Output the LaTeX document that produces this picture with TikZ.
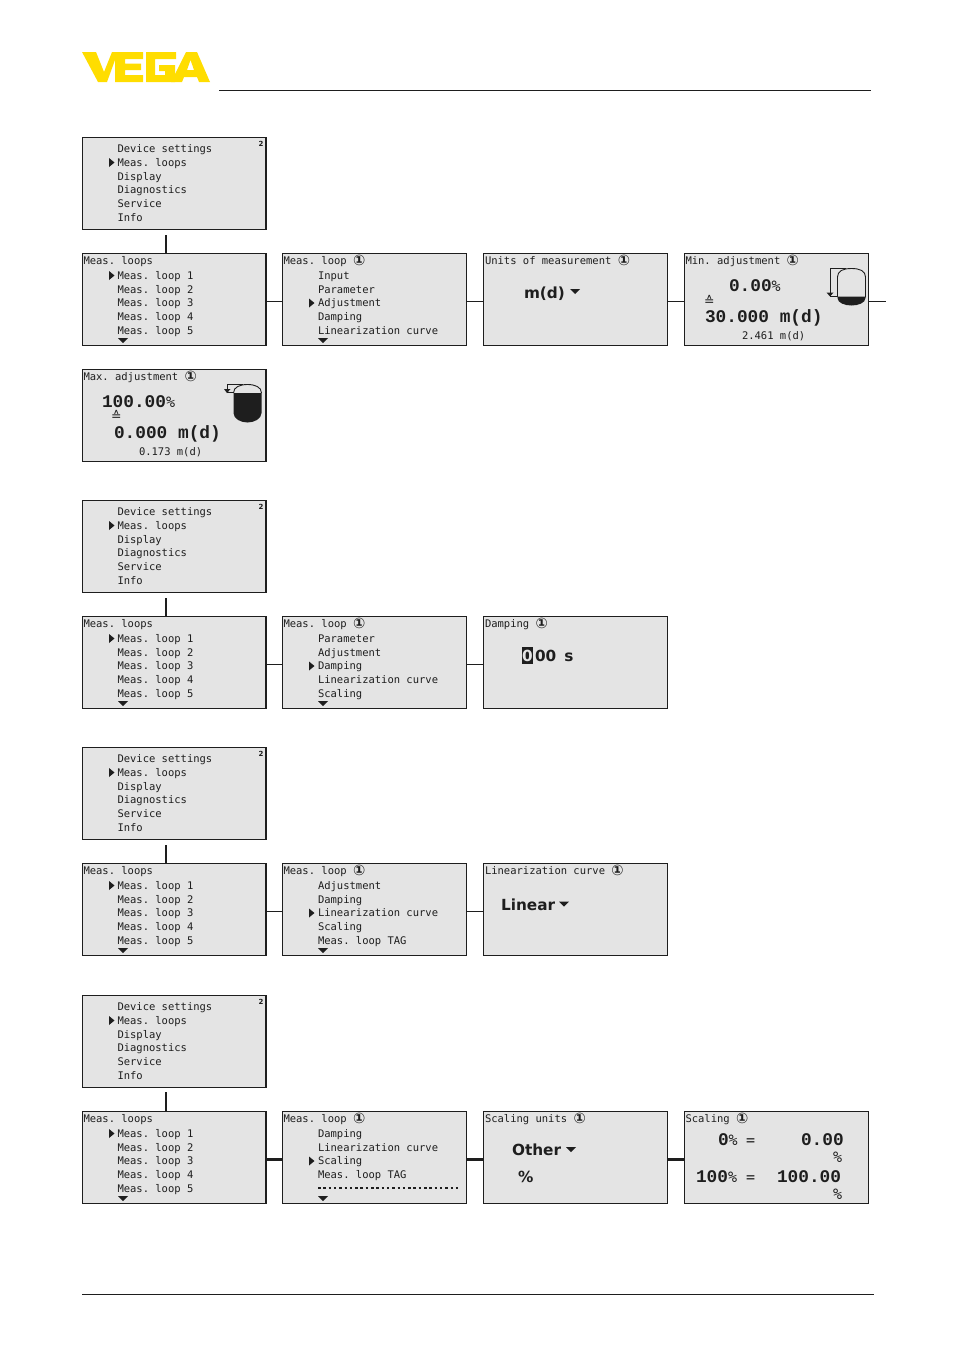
\documentclass[tikz,border=0pt]{standalone}
\usepackage{fontspec}
\setmainfont{DejaVu Sans}
\newfontfamily\lcdmono{DejaVu Sans Mono}
\newfontfamily\lcdbold{Liberation Mono}
\newfontfamily\lcdsans{DejaVu Sans}
\definecolor{lcdbg}{HTML}{E4E4E4}
\definecolor{ink}{HTML}{1E1E1E}
\definecolor{vegay}{HTML}{FFDD00}
\newcounter{tc}
\tikzset{
  lcd/.style={draw=ink,fill=lcdbg,line width=1.3pt,anchor=north west,inner sep=0pt,outer sep=0pt,
    minimum width=183.5pt,minimum height=92pt},
  txt/.style={anchor=base west,inner sep=0pt,outer sep=0pt,text=ink,font=\frenchspacing\lcdmono\fontsize{10.5}{12}\selectfont},
  big/.style={txt,font=\frenchspacing\lcdbold\bfseries\fontsize{17.8}{20}\selectfont},
  lab/.style={txt,font=\lcdsans\bfseries\fontsize{15.3}{18}\selectfont},
  pct/.style={txt,font=\lcdmono\fontsize{15}{16}\selectfont},
  cor/.style={txt,font=\lcdsans\fontsize{12.5}{13}\selectfont},
  link/.style={draw=ink,line width=1.8pt},
  linkb/.style={draw=ink,line width=2.6pt},
  rule/.style={draw=ink,line width=0.9pt}
}
% free-standing text, with a generated name
\newcommand{\T}[4][txt]{\stepcounter{tc}\node[#1] (t\thetc) at (#2,#3) {#4};}
\newcommand{\one}{{\lcdsans\bfseries\fontsize{14.5}{13}\selectfont\raisebox{-1pt}{①}}}
\newcommand{\pc}{{\lcdmono\mdseries\fontsize{15}{16}\selectfont\%}}
\newcommand{\selmark}[2]{\fill[ink] (#1,#2-4.5) -- (#1+5.5,#2) -- (#1,#2+4.5) -- cycle;}
\newcommand{\downmark}[2]{\fill[ink] (#1-5,#2-2.5) -- (#1+5,#2-2.5) -- (#1,#2+2.5) -- cycle;}
% main menu at top y
\newcommand{\topmenu}[2]{%
  \node[lcd] (#1) at (82.5,#2) {};
  \T{117.5}{#2+14.8}{Device settings}
  \T{117.5}{#2+28.6}{Meas. loops}
  \T{117.5}{#2+42.5}{Display}
  \T{117.5}{#2+55.8}{Diagnostics}
  \T{117.5}{#2+69.6}{Service}
  \T{117.5}{#2+83.5}{Info}
  \selmark{109}{#2+25}
  \T[txt,font=\lcdsans\bfseries\fontsize{7}{7}\selectfont]{258.5}{#2+8.5}{2}
}
\newcommand{\loopsmenu}[2]{%
  \node[lcd] (#1) at (82.5,#2) {};
  \T{83.5}{#2+10.5}{Meas. loops}
  \T{117.5}{#2+25.5}{Meas. loop 1}
  \T{117.5}{#2+39.5}{Meas. loop 2}
  \T{117.5}{#2+53}{Meas. loop 3}
  \T{117.5}{#2+66.5}{Meas. loop 4}
  \T{117.5}{#2+80.5}{Meas. loop 5}
  \selmark{109}{#2+22}
  \downmark{123}{#2+87}
}
% #1 name, #2 y, #3..#6 first lines, #7 y offset of the selection mark
\newcommand{\loopmenu}[7]{%
  \node[lcd] (#1) at (282.8,#2) {};
  \T{283.5}{#2+10.5}{Meas. loop \one}
  \T{318}{#2+25.5}{#3}
  \T{318}{#2+39.5}{#4}
  \T{318}{#2+53}{#5}
  \T{318}{#2+66.5}{#6}
  \selmark{309}{#2+#7}
  \downmark{323}{#2+87}
}
\begin{document}
\begin{tikzpicture}[x=1pt,y=-1pt]
\useasboundingbox (0,0) rectangle (953,1352);
% logo
\fill[vegay] (82,52) -- (96,52) -- (104,72) -- (112,52) -- (143,52) -- (143,59) -- (125,59) -- (125,63.5) -- (141,63.5) -- (141,70) -- (125,70) -- (125,75) -- (143,75) -- (143,82) -- (115,82) -- (115,60) -- (107,82) -- (98,82) -- cycle;
\fill[vegay] (146,52) -- (176,52) -- (176,59) -- (155,59) -- (155,75) -- (165,75) -- (165,71) -- (159,71) -- (159,65) -- (175,65) -- (175,82) -- (146,82) -- cycle;
\fill[vegay,even odd rule] (186,52) -- (197,52) -- (210,82) -- (199,82) -- (197,77) -- (184,77) -- (182,82) -- (171,82) -- cycle (190.5,60) -- (187,70) -- (194,70) -- cycle;
\draw[rule] (219,90.5) coordinate (hl) -- (871,90.5) coordinate (hr);
\draw[rule] (82,1294.5) coordinate (fl) -- (874,1294.5) coordinate (fr);

% ---------- group 1
\topmenu{a1}{137.5}
\loopsmenu{a2}{253.5}
\loopmenu{a3}{253.5}{Input}{Parameter}{Adjustment}{Damping}{49.5}
\T{318}{334}{Linearization curve}
\node[lcd] (a4) at (483.8,253.5) {};
\T{485}{264}{Units of measurement \one}
\T[lab]{524}{298}{m(d)}
\downmark{575}{291.5}
\node[lcd] (a5) at (684.8,253.5) {};
\T{685.5}{264}{Min. adjustment \one}
\T[big]{729}{291}{0.00\pc}
\T[cor]{704}{305}{≙}
\T[big]{705}{322}{30.000 m(d)}
\T{742}{339.5}{2.461 m(d)}
% tank, minimum
\fill[ink] (837.5,296.5) -- (865.5,296.5) -- (865.5,298) .. controls (865.5,303) and (858,305.5) .. (851.5,305.5) .. controls (845,305.5) and (837.5,303) .. (837.5,298) -- cycle;
\draw[ink,line width=0.9pt] (837.5,297) -- (837.5,277) .. controls (837.5,271) and (843,268.5) .. (851.5,268.5) .. controls (860,268.5) and (865.5,271) .. (865.5,277) -- (865.5,297);
\draw[ink,line width=0.7pt] (846,268) -- (830,268) -- (830,296.5) -- (837.5,296.5);
\fill[ink] (826.5,292.5) -- (833.5,292.5) -- (830,296.5) -- cycle;
\node[lcd] (a6) at (82.5,369.5) {};
\T{83.5}{380}{Max. adjustment \one}
\T[big]{102}{407}{100.00\pc}
\T[cor]{111}{420}{≙}
\T[big]{114}{438}{0.000 m(d)}
\T{139}{455.5}{0.173 m(d)}
% tank, maximum
\fill[ink] (233.5,393) -- (261.5,393) -- (261.5,413) .. controls (261.5,419) and (254,422.5) .. (247.5,422.5) .. controls (241,422.5) and (233.5,419) .. (233.5,413) -- cycle;
\draw[ink,line width=0.9pt] (233.5,393) .. controls (233.5,387) and (240,384.5) .. (247.5,384.5) .. controls (255,384.5) and (261.5,387) .. (261.5,393);
\draw[ink,line width=0.7pt] (243,384.5) -- (227,384.5) -- (227,392.5) -- (233.5,392.5);
\fill[ink] (224,389) -- (230.5,389) -- (227,393) -- cycle;
\coordinate (a1c) at (166,235);
\coordinate (a5r) at (886,301.5);
\draw[link] (a1c) -- (a2.north-|a1c);
\draw[link] ([yshift=-2pt]a2.east) -- ([yshift=-2pt]a3.west);
\draw[link] ([yshift=-2pt]a3.east) -- ([yshift=-2pt]a4.west);
\draw[link] ([yshift=-2pt]a4.east) -- ([yshift=-2pt]a5.west);
\draw[link] ([yshift=-2pt]a5.east) -- ([yshift=-2pt]a5.east-|a5r);

% ---------- group 2
\topmenu{b1}{500.5}
\loopsmenu{b2}{616.5}
\loopmenu{b3}{616.5}{Parameter}{Adjustment}{Damping}{Linearization curve}{49.5}
\T{318}{697}{Scaling}
\node[lcd] (b4) at (483.8,616.5) {};
\T{485}{627}{Damping \one}
\fill[ink] (521.5,646.5) rectangle (533,664);
\T[lab,text=lcdbg]{522}{661}{0}
\T[lab]{535}{661}{00\hspace{8pt}s}
\coordinate (b1c) at (166,598);
\draw[link] (b1c) -- (b2.north-|b1c);
\draw[link] ([yshift=-2pt]b2.east) -- ([yshift=-2pt]b3.west);
\draw[link] ([yshift=-2pt]b3.east) -- ([yshift=-2pt]b4.west);

% ---------- group 3
\topmenu{c1}{747.5}
\loopsmenu{c2}{863.5}
\loopmenu{c3}{863.5}{Adjustment}{Damping}{Linearization curve}{Scaling}{49.5}
\T{318}{944}{Meas. loop TAG}
\node[lcd] (c4) at (483.8,863.5) {};
\T{485}{874}{Linearization curve \one}
\T[lab]{501}{910}{Linear}
\downmark{564}{904}
\coordinate (c1c) at (166,845);
\draw[link] (c1c) -- (c2.north-|c1c);
\draw[link] ([yshift=-2pt]c2.east) -- ([yshift=-2pt]c3.west);
\draw[link] ([yshift=-2pt]c3.east) -- ([yshift=-2pt]c4.west);

% ---------- group 4
\topmenu{d1}{995.5}
\loopsmenu{d2}{1111.5}
\loopmenu{d3}{1111.5}{Damping}{Linearization curve}{Scaling}{Meas. loop TAG}{49.5}
\draw[ink,line width=1.5pt,dash pattern=on 2.5pt off 2.8pt] (318,1188) coordinate (dl) -- (458,1188) coordinate (dr);
\node[lcd] (d4) at (483.8,1111.5) {};
\T{485}{1122}{Scaling units \one}
\T[lab]{512}{1155}{Other}
\downmark{571}{1149.5}
\T[lab]{518}{1182}{\%}
\node[lcd] (d5) at (684.8,1111.5) {};
\T{685.5}{1122}{Scaling \one}
\T[big]{718}{1145}{0\pc}
\T[pct]{746}{1145}{=}
\T[big]{801}{1145}{0.00}
\T[pct]{833}{1162.5}{\%}
\T[big]{696}{1182}{100\pc}
\T[pct]{746}{1182}{=}
\T[big]{777}{1182}{100.00}
\T[pct]{833}{1199.5}{\%}
\coordinate (d1c) at (166,1092);
\draw[link] (d1c) -- (d2.north-|d1c);
\draw[linkb] ([yshift=-2pt]d2.east) -- ([yshift=-2pt]d3.west);
\draw[linkb] ([yshift=-2pt]d3.east) -- ([yshift=-2pt]d4.west);
\draw[linkb] ([yshift=-2pt]d4.east) -- ([yshift=-2pt]d5.west);
\end{tikzpicture}
\end{document}
